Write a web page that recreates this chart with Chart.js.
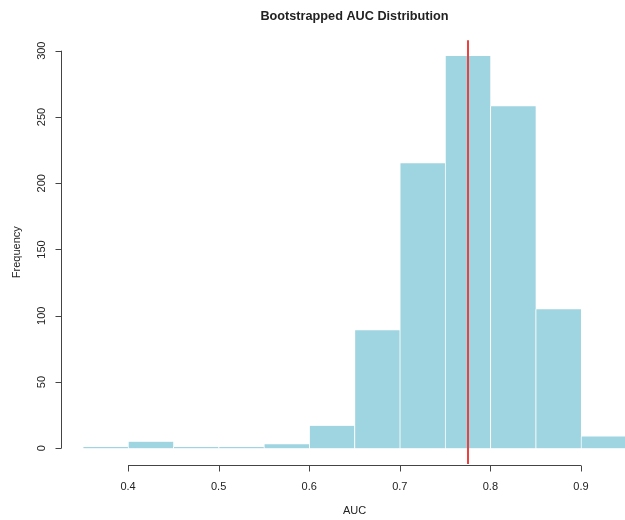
<!DOCTYPE html>
<html>
<head>
<meta charset="utf-8">
<script src="https://cdn.jsdelivr.net/npm/chart.js@4/dist/chart.umd.min.js"></script>
<style>
  html, body { margin: 0; padding: 0; background: #ffffff; }
  #wrap { width: 625px; height: 520px; }
</style>
</head>
<body>
<div id="wrap"><canvas id="c" width="625" height="520"></canvas></div>
<script>
// ---- data ----
const titleText = "Bootstrapped AUC Distribution";
const xLabel = "AUC";
const yLabel = "Frequency";
const binEdges = [0.35, 0.40, 0.45, 0.50, 0.55, 0.60, 0.65, 0.70, 0.75, 0.80, 0.85, 0.90, 0.95];
const counts   = [1, 5, 1, 1, 3, 17, 89, 215, 296, 258, 105, 9];
const xTicks = [0.4, 0.5, 0.6, 0.7, 0.8, 0.9];
const xTickLabels = ["0.4", "0.5", "0.6", "0.7", "0.8", "0.9"];
const yTicks = [0, 50, 100, 150, 200, 250, 300];
const yTickLabels = ["0", "50", "100", "150", "200", "250", "300"];
const meanAUC = 0.775;

// R-style plot ranges
const xFullMin = 0.326, xFullMax = 0.974;
const xVisibleMax = 0.9486;
const yMin = -11.84, yMax = 307.84;

const barData = counts.map((v, i) => ({ x: (binEdges[i] + binEdges[i + 1]) / 2, y: v }));

const FONT = '"Liberation Sans", Arial, Helvetica, sans-serif';

const axesPlugin = {
  id: 'rAxes',
  afterDatasetsDraw(chart) {
    const ctx = chart.ctx, xs = chart.scales.x, ca = chart.chartArea;
    const px = Math.round(xs.getPixelForValue(meanAUC));
    ctx.save();
    ctx.strokeStyle = '#ec4141';
    ctx.lineWidth = 2;
    ctx.beginPath();
    ctx.moveTo(px, ca.top);
    ctx.lineTo(px, ca.bottom);
    ctx.stroke();
    ctx.restore();
  },
  afterDraw(chart) {
    const ctx = chart.ctx, xs = chart.scales.x, ys = chart.scales.y, ca = chart.chartArea;
    ctx.save();
    ctx.strokeStyle = '#444';
    ctx.fillStyle = '#222';
    ctx.lineWidth = 1;
    const centerX = xs.getPixelForValue((xFullMin + xFullMax) / 2);

    // title
    ctx.font = 'bold 12.7px ' + FONT;
    ctx.textAlign = 'center';
    ctx.textBaseline = 'middle';
    ctx.fillText(titleText, centerX, 16);

    // x axis
    const yAx = Math.round(ca.bottom + 1) + 0.5;
    ctx.beginPath();
    ctx.moveTo(xs.getPixelForValue(xTicks[0]), yAx);
    ctx.lineTo(xs.getPixelForValue(xTicks[xTicks.length - 1]), yAx);
    ctx.stroke();
    ctx.font = '11px ' + FONT;
    xTicks.forEach((t, i) => {
      const p = Math.round(xs.getPixelForValue(t)) + 0.5;
      ctx.beginPath();
      ctx.moveTo(p, yAx);
      ctx.lineTo(p, yAx + 6);
      ctx.stroke();
      ctx.fillText(xTickLabels[i], xs.getPixelForValue(t), yAx + 21);
    });
    ctx.fillText(xLabel, centerX, 511);

    // y axis
    const xAx = Math.round(ca.left) + 0.5;
    ctx.beginPath();
    ctx.moveTo(xAx, ys.getPixelForValue(yTicks[0]));
    ctx.lineTo(xAx, ys.getPixelForValue(yTicks[yTicks.length - 1]));
    ctx.stroke();
    yTicks.forEach((t, i) => {
      const p = Math.round(ys.getPixelForValue(t)) + 0.5;
      ctx.beginPath();
      ctx.moveTo(xAx - 6, p);
      ctx.lineTo(xAx, p);
      ctx.stroke();
      ctx.save();
      ctx.translate(41.5, ys.getPixelForValue(t));
      ctx.rotate(-Math.PI / 2);
      ctx.fillText(yTickLabels[i], 0, 0);
      ctx.restore();
    });
    ctx.save();
    ctx.translate(16.5, (ca.top + ca.bottom) / 2);
    ctx.rotate(-Math.PI / 2);
    ctx.fillText(yLabel, 0, 0);
    ctx.restore();
    ctx.restore();
  }
};

new Chart(document.getElementById('c'), {
  type: 'bar',
  data: {
    datasets: [{
      label: 'AUC',
      data: barData,
      backgroundColor: '#9fd4e1',
      borderColor: '#ffffff',
      borderWidth: { left: 1, right: 0, top: 0, bottom: 0 },
      borderSkipped: false,
      barPercentage: 1.0,
      categoryPercentage: 1.0
    }]
  },
  options: {
    responsive: false,
    animation: false,
    devicePixelRatio: 1,
    layout: { padding: { left: 61, right: 0, top: 40.3, bottom: 56 } },
    plugins: { legend: { display: false }, tooltip: { enabled: false }, title: { display: false } },
    scales: {
      x: { type: 'linear', display: false, min: xFullMin, max: xVisibleMax, offset: false },
      y: { type: 'linear', display: false, min: yMin, max: yMax }
    }
  },
  plugins: [axesPlugin]
});
</script>
</body>
</html>
